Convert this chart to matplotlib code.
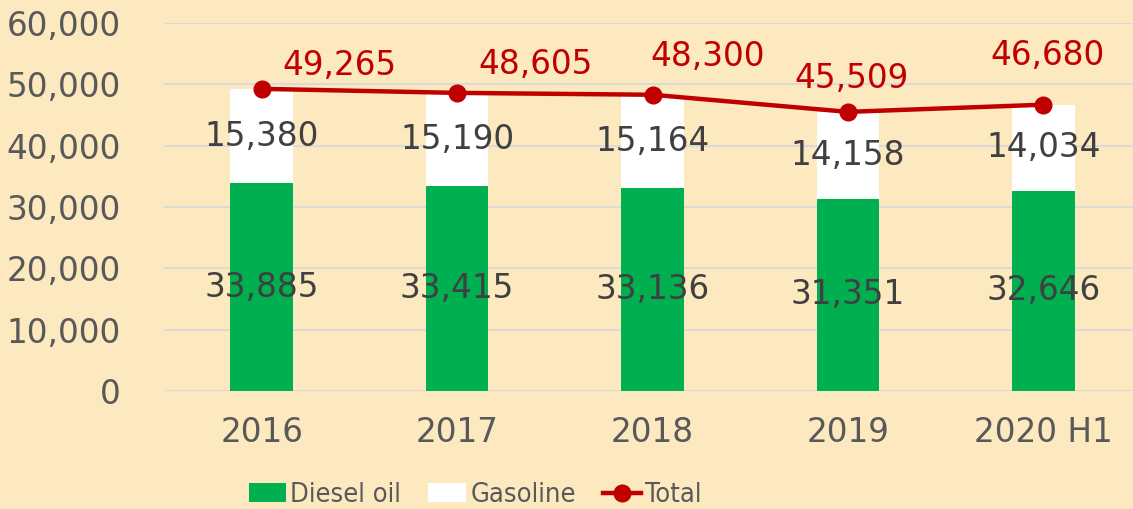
import matplotlib
matplotlib.use("Agg")
import matplotlib.pyplot as plt
from matplotlib import font_manager
import numpy as np

categories = ["2016", "2017", "2018", "2019", "2020 H1"]
diesel = [33885, 33415, 33136, 31351, 32646]
gasoline = [15380, 15190, 15164, 14158, 14034]
total = [49265, 48605, 48300, 45509, 46680]
yticks = [0, 10000, 20000, 30000, 40000, 50000, 60000]

# label offsets (x in category units, y in data units) for total labels
tot_dx = [0.40, 0.40, 0.28, 0.02, 0.02]
tot_dy = [3850, 4550, 6250, 5450, 8100]

bg = "#FDE9BF"
FS = 23.5
fig = plt.figure(figsize=(11.33, 5.09), dpi=100, facecolor=bg)
ax = fig.add_axes([164/1133, (509-391)/509, (1141-164)/1133, (391-23)/509])
ax.set_facecolor(bg)

x = np.arange(len(categories))
w = 0.32
b1 = ax.bar(x, diesel, w, color="#00B050", label="Diesel oil", zorder=2)
b2 = ax.bar(x, gasoline, w, bottom=diesel, color="#FFFFFF", label="Gasoline", zorder=2)
l1, = ax.plot(x, total, color="#C00000", lw=3.2, marker="o", ms=12, label="Total", zorder=3)

for i in range(len(x)):
    ax.text(x[i], diesel[i] / 2, f"{diesel[i]:,}", ha="center", va="center",
            fontsize=FS, color="#404040", zorder=4)
    ax.text(x[i], diesel[i] + gasoline[i] / 2, f"{gasoline[i]:,}", ha="center", va="center",
            fontsize=FS, color="#404040", zorder=4)
    ax.text(x[i] + tot_dx[i], total[i] + tot_dy[i], f"{total[i]:,}", ha="center", va="center",
            fontsize=FS, color="#C00000", zorder=4)

ax.set_xlim(-0.5, len(x) - 0.5)
ax.set_ylim(0, 60000)
ax.set_yticks(yticks)
ax.set_yticklabels([f"{v:,}" for v in yticks])
ax.set_xticks(x)
ax.set_xticklabels(categories)
ax.tick_params(axis="both", length=0, labelsize=FS, labelcolor="#595959")
ax.tick_params(axis="y", pad=31)
ax.tick_params(axis="x", pad=18)
ax.grid(axis="y", color="#D9D9D9", lw=1.3, zorder=0)
for s in ax.spines.values():
    s.set_visible(False)

names = {f.name for f in font_manager.fontManager.ttflist}
leg_family = ["Liberation Sans Narrow"] if "Liberation Sans Narrow" in names else ["DejaVu Sans"]
leg_prop = font_manager.FontProperties(family=leg_family, size=19.5,
                                       stretch="condensed")
leg = fig.legend([b1, b2, l1], ["Diesel oil", "Gasoline", "Total"],
                 loc="center", bbox_to_anchor=(475/1133, 1 - 495/509), ncol=3, frameon=False,
                 prop=leg_prop, handlelength=1.4, handleheight=0.65, handletextpad=0.15,
                 columnspacing=1.0, labelcolor="#595959", borderpad=0.1)
fig.savefig("out.png", dpi=100, facecolor=bg)
